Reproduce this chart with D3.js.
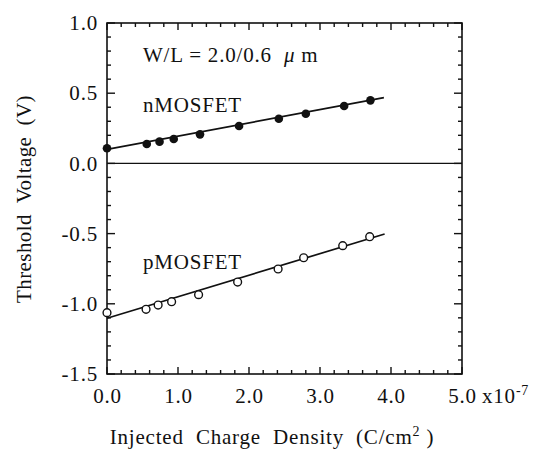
<!DOCTYPE html>
<html>
<head>
<meta charset="utf-8">
<script src="https://cdn.jsdelivr.net/npm/d3@7"></script>
<style>
  html, body { margin: 0; padding: 0; background: #fff; }
  svg text { font-family: "Liberation Serif", "Times New Roman", serif; fill: #111; }
</style>
</head>
<body>
<svg id="chart" width="537" height="452"></svg>
<script>
// Injected charge density (units of 1e-7 C/cm^2)
const chargeN = [0.0, 0.56, 0.74, 0.94, 1.31, 1.86, 2.42, 2.80, 3.34, 3.71];
const vthN    = [0.108, 0.138, 0.155, 0.174, 0.207, 0.266, 0.318, 0.354, 0.409, 0.449];
const chargeP = [0.0, 0.55, 0.72, 0.91, 1.29, 1.84, 2.41, 2.77, 3.32, 3.70];
const vthP    = [-1.063, -1.039, -1.009, -0.985, -0.935, -0.845, -0.752, -0.672, -0.586, -0.522];
// Linear fits: [x0, y0, x1, y1]
const fitN = [0.0, 0.100, 3.90, 0.468];
const fitP = [0.0, -1.103, 3.91, -0.503];
const xTicks = [0, 1, 2, 3, 4, 5];
const xTickLabels = ["0.0", "1.0", "2.0", "3.0", "4.0", "5.0"];
const yTicks = [1.0, 0.5, 0.0, -0.5, -1.0, -1.5];
const yTickLabels = ["1.0", "0.5", "0.0", "-0.5", "-1.0", "-1.5"];

const svg = d3.select("#chart");
const m = { left: 107, right: 462, top: 23, bottom: 374 };
const x = d3.scaleLinear().domain([0, 5]).range([m.left, m.right]);
const y = d3.scaleLinear().domain([-1.5, 1.0]).range([m.bottom, m.top]);

const fs = 21;
const ls = 0.8;

// Frame
svg.append("rect")
  .attr("x", m.left).attr("y", m.top)
  .attr("width", m.right - m.left).attr("height", m.bottom - m.top)
  .attr("fill", "none").attr("stroke", "#111").attr("stroke-width", 1.6);

// Major and minor ticks (inward) on all four sides
const xMinor = d3.range(0, 5.0001, 0.2);
const yMinor = d3.range(-1.5, 1.0001, 0.1);
const major = 7, minor = 4;
function isMajor(v, step) { return Math.abs(v / step - Math.round(v / step)) < 1e-6; }

const tg = svg.append("g").attr("stroke", "#111").attr("stroke-width", 1.4);
xMinor.forEach(v => {
  const L = isMajor(v, 1) ? major : minor;
  tg.append("line").attr("x1", x(v)).attr("x2", x(v)).attr("y1", m.bottom).attr("y2", m.bottom - L);
  tg.append("line").attr("x1", x(v)).attr("x2", x(v)).attr("y1", m.top).attr("y2", m.top + L);
});
yMinor.forEach(v => {
  const L = isMajor(v, 0.5) ? major + 1 : minor;
  tg.append("line").attr("y1", y(v)).attr("y2", y(v)).attr("x1", m.left).attr("x2", m.left + L);
  tg.append("line").attr("y1", y(v)).attr("y2", y(v)).attr("x1", m.right).attr("x2", m.right - L);
});

// Zero line
svg.append("line")
  .attr("x1", x(0)).attr("x2", x(5)).attr("y1", y(0)).attr("y2", y(0))
  .attr("stroke", "#111").attr("stroke-width", 1.4);

// Tick labels via d3 axes (axis lines hidden)
const xAxis = svg.append("g")
  .attr("transform", `translate(0,${m.bottom})`)
  .call(d3.axisBottom(x).tickValues(xTicks).tickSize(0).tickPadding(14)
    .tickFormat((d, i) => xTickLabels[i]));
xAxis.select(".domain").remove();
xAxis.selectAll("text").attr("font-size", fs).attr("letter-spacing", ls)
  .attr("font-family", "Liberation Serif").attr("fill", "#111");

// exponent after the last x tick label
svg.append("text")
  .attr("x", x(5) + 20).attr("y", 403)
  .attr("font-size", fs).attr("letter-spacing", ls)
  .text("x10")
  .append("tspan").attr("dy", -8).attr("font-size", 14).text("-7");

const yAxis = svg.append("g")
  .attr("transform", `translate(${m.left},0)`)
  .call(d3.axisLeft(y).tickValues(yTicks).tickSize(0).tickPadding(9)
    .tickFormat((d, i) => yTickLabels[i]));
yAxis.select(".domain").remove();
yAxis.selectAll("text").attr("font-size", fs).attr("letter-spacing", ls)
  .attr("font-family", "Liberation Serif").attr("fill", "#111");

// Axis titles
svg.append("text")
  .attr("x", 272).attr("y", 444)
  .attr("text-anchor", "middle").attr("font-size", fs).attr("letter-spacing", ls)
  .attr("xml:space", "preserve")
  .text("Injected  Charge  Density  (C/cm")
  .call(t => {
    t.append("tspan").attr("dy", -8).attr("font-size", 14).text("2");
    t.append("tspan").attr("dy", 8).text(" )");
  });

svg.append("text")
  .attr("transform", `translate(31,199) rotate(-90)`)
  .attr("text-anchor", "middle").attr("font-size", fs).attr("letter-spacing", 0.4)
  .attr("xml:space", "preserve")
  .text("Threshold  Voltage  (V)");

// Annotations
const ann = svg.append("text").attr("x", 143).attr("y", 62)
  .attr("font-size", fs).attr("letter-spacing", ls)
  .attr("xml:space", "preserve");
ann.append("tspan").text("W/L = 2.0/0.6  ");
ann.append("tspan").attr("font-style", "italic").text("μ");
ann.append("tspan").text(" m");

svg.append("text").attr("x", 143).attr("y", 112).attr("font-size", fs)
  .attr("letter-spacing", ls).text("nMOSFET");
svg.append("text").attr("x", 143).attr("y", 269).attr("font-size", fs)
  .attr("letter-spacing", ls).text("pMOSFET");

// Fit lines
const line = d3.line().x(d => x(d[0])).y(d => y(d[1]));
[fitN, fitP].forEach(f => {
  svg.append("path")
    .attr("d", line([[f[0], f[1]], [f[2], f[3]]]))
    .attr("fill", "none").attr("stroke", "#111").attr("stroke-width", 1.7);
});

// Data points
const nData = chargeN.map((c, i) => [c, vthN[i]]);
const pData = chargeP.map((c, i) => [c, vthP[i]]);

svg.append("g").selectAll("circle").data(nData).join("circle")
  .attr("cx", d => x(d[0])).attr("cy", d => y(d[1])).attr("r", 4.3)
  .attr("fill", "#111");

svg.append("g").selectAll("circle").data(pData).join("circle")
  .attr("cx", d => x(d[0])).attr("cy", d => y(d[1])).attr("r", 3.9)
  .attr("fill", "#fff").attr("stroke", "#111").attr("stroke-width", 1.4);
</script>
</body>
</html>
